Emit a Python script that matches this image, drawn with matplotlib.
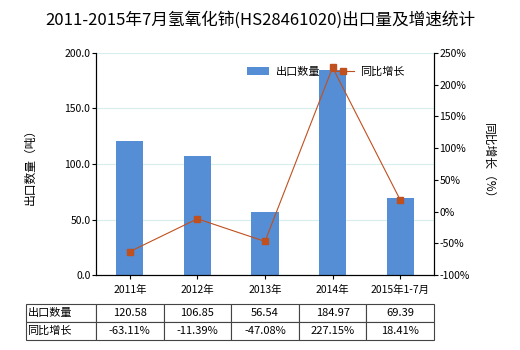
import matplotlib
matplotlib.use("Agg")
import matplotlib.pyplot as plt
from matplotlib.ticker import FuncFormatter

plt.rcParams['font.family'] = ['Noto Sans CJK SC', 'DejaVu Sans']
plt.rcParams['axes.unicode_minus'] = False

# data
years = ["2011年", "2012年", "2013年", "2014年", "2015年1-7月"]
qty = [120.58, 106.85, 56.54, 184.97, 69.39]
growth = [-63.11, -11.39, -47.08, 227.15, 18.41]
qty_txt = ["120.58", "106.85", "56.54", "184.97", "69.39"]
growth_txt = ["-63.11%", "-11.39%", "-47.08%", "227.15%", "18.41%"]

bar_col = "#558ED5"
line_col = "#C0501E"

fig = plt.figure(figsize=(5.2, 3.5), dpi=100)
ax = fig.add_axes([96/520, 1-275/350, 338/520, 222/350])
x = list(range(len(years)))

ax.bar(x, qty, width=0.4, color=bar_col, label="出口数量", zorder=2)
ax.set_xlim(-0.5, 4.5)
ax.set_ylim(0, 200)
ax.set_yticks([0, 50, 100, 150, 200])
ax.yaxis.set_major_formatter(FuncFormatter(lambda v, p: "%.1f" % v))
ax.grid(axis="y", color="#D6EEEE", lw=0.8, zorder=0)
ax.set_xticks(x)
ax.set_xticklabels(years, fontsize=7.5)
ax.tick_params(axis="y", labelsize=7.5, length=3, width=0.8, pad=1)
ax.tick_params(axis="x", length=3, width=0.8, pad=4)
ax.spines["top"].set_visible(False)
for s in ["left", "right", "bottom"]:
    ax.spines[s].set_linewidth(0.8)
ax.set_ylabel("出口数量（吨）", fontsize=8.5, labelpad=20)

ax2 = ax.twinx()
ax2.plot(x, growth, color=line_col, lw=0.8, marker="s", ms=4, label="同比增长", zorder=3)
ax2.set_ylim(-100, 250)
ax2.set_yticks(range(-100, 251, 50))
ax2.yaxis.set_major_formatter(FuncFormatter(lambda v, p: "%d%%" % v))
ax2.tick_params(axis="y", labelsize=7.5, length=3, width=0.8, pad=1)
ax2.spines["top"].set_visible(False)
ax2.spines["right"].set_linewidth(0.8)
ax2.set_ylabel("同比增长（%）", fontsize=8.5, rotation=-90, labelpad=18)

h1, l1 = ax.get_legend_handles_labels()
h2, l2 = ax2.get_legend_handles_labels()
ax2.legend(h1 + h2, l1 + l2, loc="center", bbox_to_anchor=(0.68, 0.915), ncol=2,
           frameon=False, fontsize=8, handlelength=2.0, handletextpad=0.6, columnspacing=1.0)

fig.suptitle("2011-2015年7月氢氧化铈(HS28461020)出口量及增速统计", y=1-20/350, va="center", fontsize=12)

cells = [["出口数量"] + qty_txt, ["同比增长"] + growth_txt]
tbl = ax.table(cellText=cells, bbox=[-70/338, -(340-275)/222, 1+70/338, 36/222],
               cellLoc="center", colWidths=[70] + [67.6]*5)
tbl.auto_set_font_size(False)
for (r, c), cell in tbl.get_celld().items():
    cell.set_fontsize(8)
    cell.set_edgecolor("#444444")
    cell.set_linewidth(0.8)
    if c == 0:
        cell.get_text().set_ha("left")
        cell._loc = "left"
        cell.PAD = 0.02

fig.savefig("out.png", dpi=100)
